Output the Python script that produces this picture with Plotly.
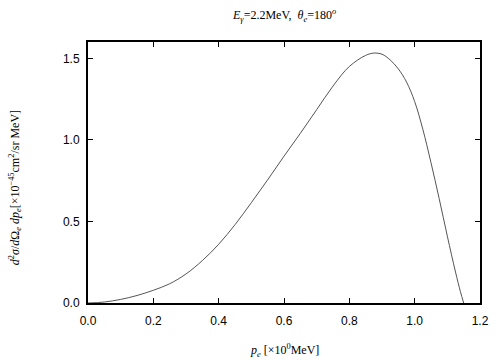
import plotly.graph_objects as go

p_e = [0.0, 0.05, 0.1, 0.15, 0.2, 0.25, 0.3, 0.35, 0.4, 0.45, 0.5, 0.55, 0.6, 0.65,
       0.7, 0.75, 0.8, 0.85, 0.875, 0.9, 0.925, 0.95, 0.975, 1.0, 1.025, 1.05, 1.075,
       1.1, 1.125, 1.14, 1.15]
cross_section = [0.0, 0.006, 0.022, 0.046, 0.078, 0.118, 0.178, 0.26, 0.36, 0.48, 0.615,
                 0.755, 0.90, 1.04, 1.185, 1.33, 1.45, 1.518, 1.532, 1.525, 1.49, 1.435,
                 1.355, 1.235, 1.065, 0.86, 0.64, 0.41, 0.19, 0.07, 0.0]
x_ticks = [0.0, 0.2, 0.4, 0.6, 0.8, 1.0, 1.2]
y_ticks = [0.0, 0.5, 1.0, 1.5]

fig = go.Figure()
fig.add_trace(go.Scatter(x=p_e, y=cross_section, mode="lines",
                         line=dict(color="#555555", width=1, shape="spline", smoothing=1.0),
                         showlegend=False, hoverinfo="skip"))

axis_common = dict(showline=True, linecolor="black", linewidth=2, mirror="allticks",
                   ticks="inside", ticklen=5, tickcolor="black", tickwidth=1,
                   showgrid=False, zeroline=False,
                   tickfont=dict(family="Liberation Sans, Arial, sans-serif", size=12, color="black"))

fig.update_xaxes(range=[0, 1.2], tickvals=x_ticks, ticktext=[f"{v:.1f}" for v in x_ticks],
                 ticklabelstandoff=6, **axis_common)
fig.update_yaxes(range=[0, 1.6], tickvals=y_ticks, ticktext=[f"{v:.1f}" for v in y_ticks],
                 ticklabelstandoff=4, **axis_common)

serif = dict(family="Liberation Serif, Times New Roman, serif", size=12, color="black")

fig.add_annotation(text="<i>E</i><sub><i>γ</i></sub>=2.2MeV,  <i>θ</i><sub><i>e</i></sub>=180<sup><i>o</i></sup>",
                   xref="paper", yref="paper", x=0.5, y=1.0, yshift=16,
                   showarrow=False, font=serif, xanchor="center", yanchor="bottom")
fig.add_annotation(text="<i>p</i><sub><i>e</i></sub> [×10<sup>0</sup>MeV]",
                   xref="paper", yref="paper", x=0.5, y=0, yshift=-37,
                   showarrow=False, font=serif, xanchor="center", yanchor="top")
fig.add_annotation(text="<i>d</i><sup>2</sup><i>σ</i>/<i>d</i>Ω<sub><i>e</i></sub> <i>dp</i><sub><i>e</i></sub>[×10<sup>−45</sup>cm<sup>2</sup>/sr MeV]",
                   xref="paper", yref="paper", x=0, y=0.44, xshift=-73,
                   textangle=-90, showarrow=False, font=serif,
                   xanchor="center", yanchor="middle")

fig.update_layout(width=504, height=360, plot_bgcolor="white", paper_bgcolor="white",
                  margin=dict(l=88, r=24, t=42, b=57))

fig.write_html("out.html", config={"displayModeBar": False},
               post_script="document.body.style.margin='0';document.body.style.overflow='hidden';")
